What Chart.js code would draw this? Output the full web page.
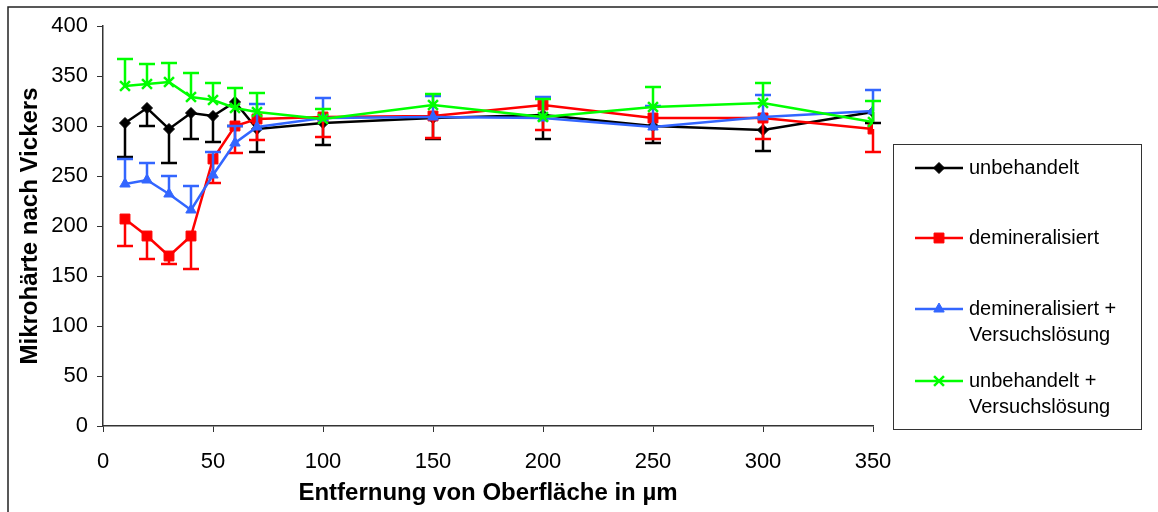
<!DOCTYPE html>
<html>
<head>
<meta charset="utf-8">
<script src="https://cdn.jsdelivr.net/npm/chart.js@4.4.0/dist/chart.umd.min.js"></script>
<style>
  html, body { margin: 0; padding: 0; background: #fff; }
  #wrap { width: 1158px; height: 512px; position: relative; }
</style>
</head>
<body>
<div id="wrap"><canvas id="chart" width="1158" height="512"></canvas></div>
<script>
// Entfernung von der Oberfläche (µm)
var distances = [10, 20, 30, 40, 50, 60, 70, 100, 150, 200, 250, 300, 350];

// Mikrohärte je Gruppe, und das Ende des Fehlerbalkens (einseitig)
var unbehandelt = [303, 318, 297, 313, 310, 324, 297, 303, 308, 311, 300, 296, 314];
var unbehandeltErr = [269, 300, 263, 287, 284, 300, 274, 281, 287, 287, 283, 275, 303];

var demin = [207, 190, 170, 190, 267, 300, 307, 309, 310, 321, 308, 308, 297];
var deminErr = [180, 167, 162, 157, 243, 273, 286, 289, 288, 296, 287, 287, 274];

var deminVL = [242, 246, 232, 216, 251, 283, 299, 308, 309, 308, 299, 309, 315];
var deminVLErr = [267, 263, 250, 240, 274, 300, 322, 328, 330, 329, 320, 331, 336];

var unbehandeltVL = [340, 342, 344, 329, 326, 318, 314, 307, 321, 309, 319, 323, 304];
var unbehandeltVLErr = [367, 362, 363, 353, 343, 338, 333, 317, 332, 327, 339, 343, 325];

var yTicks = [0, 50, 100, 150, 200, 250, 300, 350, 400];
var xTicks = [0, 50, 100, 150, 200, 250, 300, 350];

var seriesLabels = [
  ["unbehandelt"],
  ["demineralisiert"],
  ["demineralisiert +", "Versuchslösung"],
  ["unbehandelt +", "Versuchslösung"]
];

function points(vals) {
  return distances.map(function (d, i) { return { x: d, y: vals[i] }; });
}

var errEnds = [unbehandeltErr, deminErr, deminVLErr, unbehandeltVLErr];

// one-sided error bars, drawn with each dataset
var errorBars = {
  id: 'errorBars',
  afterDatasetDraw: function (chart, args) {
    var ends = errEnds[args.index];
    var ds = chart.data.datasets[args.index];
    var ctx = chart.ctx;
    var yScale = chart.scales.y;
    ctx.save();
    ctx.strokeStyle = ds.borderColor;
    ctx.lineWidth = 2.5;
    args.meta.data.forEach(function (pt, i) {
      if (ends[i] == null) return;
      var yEnd = yScale.getPixelForValue(ends[i]);
      ctx.beginPath();
      ctx.moveTo(pt.x, pt.y);
      ctx.lineTo(pt.x, yEnd);
      ctx.moveTo(pt.x - 8, yEnd);
      ctx.lineTo(pt.x + 8, yEnd);
      ctx.stroke();
    });
    ctx.restore();
  }
};

// frame, legend box
var decor = {
  id: 'decor',
  afterDraw: function (chart) {
    var ctx = chart.ctx;
    ctx.save();
    ctx.strokeStyle = '#222';
    ctx.lineWidth = 1.5;
    ctx.beginPath();
    ctx.moveTo(8, 520);
    ctx.lineTo(8, 7);
    ctx.lineTo(1170, 7);
    ctx.stroke();

    ctx.lineWidth = 1;
    ctx.strokeStyle = '#333';
    ctx.strokeRect(893.5, 144.5, 248, 285);

    var rows = [168, 238, 309, 381];
    ctx.font = '20px "Liberation Sans", Arial, sans-serif';
    ctx.textBaseline = 'middle';
    ctx.textAlign = 'left';
    chart.data.datasets.forEach(function (ds, i) {
      var y = rows[i];
      ctx.strokeStyle = ds.borderColor;
      ctx.lineWidth = 2.5;
      ctx.beginPath();
      ctx.moveTo(915, y);
      ctx.lineTo(963, y);
      ctx.stroke();
      ctx.fillStyle = ds.pointBackgroundColor;
      ctx.strokeStyle = ds.pointBorderColor;
      ctx.lineWidth = ds.pointBorderWidth;
      Chart.helpers.drawPoint(ctx, {
        pointStyle: ds.pointStyle,
        radius: ds.pointRadius,
        borderWidth: ds.pointBorderWidth
      }, 939, y);
      ctx.fillStyle = '#000';
      seriesLabels[i].forEach(function (line, k) {
        ctx.fillText(line, 969, y + k * 26);
      });
    });
    ctx.restore();
  }
};

function series(label, vals, color, style, radius, bw) {
  return {
    label: label,
    data: points(vals),
    borderColor: color,
    backgroundColor: color,
    borderWidth: 2.5,
    pointStyle: style,
    pointRadius: radius,
    pointHoverRadius: radius,
    pointBackgroundColor: color,
    pointBorderColor: color,
    pointBorderWidth: bw,
    tension: 0
  };
}

var datasets = [
  series('unbehandelt', unbehandelt, '#000000', 'rectRot', 5.5, 1),
  series('demineralisiert', demin, '#ff0000', 'rect', 7, 1),
  series('demineralisiert + Versuchslösung', deminVL, '#3366ff', 'triangle', 6, 1),
  series('unbehandelt + Versuchslösung', unbehandeltVL, '#00ff00', 'crossRot', 7, 2.5)
];
datasets[0].order = 4;
datasets[1].order = 3;
datasets[2].order = 2;
datasets[3].order = 1;

Chart.defaults.font.family = '"Liberation Sans", Arial, sans-serif';
Chart.defaults.color = '#000';

new Chart(document.getElementById('chart'), {
  type: 'line',
  data: { datasets: datasets },
  plugins: [errorBars, decor],
  options: {
    responsive: false,
    animation: false,
    layout: { padding: { left: 8, top: 26, right: 285, bottom: 0 } },
    plugins: { legend: { display: false }, tooltip: { enabled: false } },
    scales: {
      x: {
        type: 'linear',
        min: 0,
        max: 350,
        afterBuildTicks: function (s) { s.ticks = xTicks.map(function (v) { return { value: v }; }); },
        afterFit: function (s) { s.height = 86; },
        ticks: { font: { size: 22 }, padding: 17, maxRotation: 0, color: '#000' },
        grid: { drawOnChartArea: false, drawTicks: true, tickLength: 6, color: '#333', tickColor: '#333' },
        border: { display: true, color: '#333', width: 1.5 },
        title: {
          display: true,
          text: 'Entfernung von Oberfläche in µm',
          font: { size: 24, weight: 'bold' },
          color: '#000',
          padding: { top: 0, bottom: 4 }
        }
      },
      y: {
        min: 0,
        max: 400,
        afterBuildTicks: function (s) { s.ticks = yTicks.map(function (v) { return { value: v }; }); },
        afterFit: function (s) { s.width = 95; },
        ticks: { font: { size: 22 }, padding: 9, color: '#000' },
        grid: { drawOnChartArea: false, drawTicks: true, tickLength: 6, color: '#333', tickColor: '#333' },
        border: { display: true, color: '#333', width: 1.5 },
        title: {
          display: true,
          text: 'Mikrohärte nach Vickers',
          font: { size: 24, weight: 'bold' },
          color: '#000',
          padding: { top: 8, bottom: 0 }
        }
      }
    }
  }
});
</script>
</body>
</html>
